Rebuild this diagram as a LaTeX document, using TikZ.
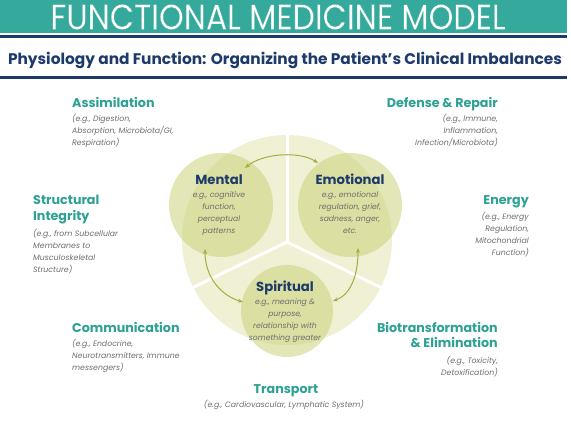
\documentclass[tikz,border=0pt]{standalone}
\usepackage{fontspec}
\setmainfont{Poppins}
\usetikzlibrary{arrows.meta}
\definecolor{banner}{HTML}{35AA9C}
\definecolor{navy}{HTML}{1D3A6A}
\definecolor{tealtxt}{HTML}{2DA193}
\definecolor{graytxt}{HTML}{6E6E6E}
\definecolor{pale}{HTML}{EFF0D4}
\definecolor{olivefill}{HTML}{C8CF70}
\definecolor{olive}{HTML}{A4AE3F}
\tikzset{
  lab/.style={text=tealtxt, font=\bfseries\fontsize{12.7}{15.5}\selectfont, inner sep=0pt},
  desc/.style={text=graytxt, font=\itshape\fontsize{7.8}{12}\selectfont, inner sep=0pt},
  ctitle/.style={text=navy, font=\bfseries\fontsize{13.2}{14}\selectfont, inner sep=0pt},
  cdesc/.style={text=graytxt, font=\itshape\fontsize{7.7}{12}\selectfont, inner sep=0pt, align=center},
  bubble/.style={circle, fill=olivefill, fill opacity=0.5, draw=none, inner sep=0pt},
  divider/.style={white, line width=3pt},
  link/.style={olive, line width=1pt, {Stealth[length=5pt,width=4pt]}-{Stealth[length=5pt,width=4pt]}}
}
\begin{document}
\begin{tikzpicture}[x=1pt,y=-1pt]
\useasboundingbox (0,0) rectangle (571,422);
\fill[white] (0,0) rectangle (571,422);
% header
\fill[banner] (0,0) rectangle (567,33);
\draw[navy, line width=3pt] (0,36.5) -- (567,36.5);
\node[white, inner sep=0pt] (title) at (278,17) {\special{pdf:code q 2 Tr 0.055 w 0.208 0.667 0.612 RG}\resizebox{455pt}{25pt}{FUNCTIONAL MEDICINE MODEL}\special{pdf:code Q}};
\node[text=navy, inner sep=0pt] (subtitle) at (285,60) {\resizebox{554pt}{!}{\bfseries Physiology and Function: Organizing the Patient's Clinical Imbalances}};
\draw[navy, line width=2.5pt] (0,77.5) -- (567,77.5);
% central figure
\node[circle, fill=pale, minimum size=210pt, inner sep=0pt] (pale) at (287,240) {};
\coordinate (hub) at (287,242);
\coordinate (dtop) at (287,135);
\coordinate (dleft) at (192,288);
\coordinate (dright) at (382,288);
\draw[divider] (hub) -- (dtop);
\draw[divider] (hub) -- (dleft);
\draw[divider] (hub) -- (dright);
\node[bubble, minimum size=104pt] (mental) at (221,205) {};
\node[bubble, minimum size=104pt] (emotional) at (350,205) {};
\node[bubble, minimum size=92pt] (spiritual) at (287,311) {};
% circle texts
\node[ctitle, anchor=base] (mt) at (219,185) {Mental};
\node[cdesc, anchor=north] (md) at (219,191) {e.g., cognitive\\function,\\perceptual\\patterns};
\node[ctitle, anchor=base] (et) at (350,185) {Emotional};
\node[cdesc, anchor=north] (ed) at (350,191) {e.g., emotional\\regulation, grief,\\sadness, anger,\\etc.};
\node[ctitle, anchor=base] (st) at (285,292) {Spiritual};
\node[cdesc, anchor=north] (sd) at (285,298) {e.g., meaning \&\\purpose,\\relationship with\\something greater};
% arrows
\coordinate (a1) at (245,168);
\coordinate (a2) at (318,163);
\coordinate (b1) at (205,249);
\coordinate (b2) at (243,302);
\coordinate (c1) at (358,248);
\coordinate (c2) at (333,301);
\draw[link] (a1) .. controls (263,153) and (300,151) .. (a2);
\draw[link] (b1) .. controls (205,278) and (222,296) .. (b2);
\draw[link] (c1) .. controls (358,277) and (350,295) .. (c2);
% left column
\node[lab, anchor=base west] (assim) at (72,108) {Assimilation};
\node[desc, anchor=north west, align=left] (assimd) at (72,114) {(e.g., Digestion,\\Absorption, Microbiota/GI,\\Respiration)};
\node[lab, anchor=north west, align=left] (struct) at (33,195) {Structural\\Integrity};
\node[desc, anchor=north west, align=left] (structd) at (33,229) {(e.g., from Subcellular\\Membranes to\\Musculoskeletal\\Structure)};
\node[lab, anchor=base west] (comm) at (72,333) {Communication};
\node[desc, anchor=north west, align=left] (commd) at (72,339) {(e.g., Endocrine,\\Neurotransmitters, Immune\\messengers)};
% right column
\node[lab, anchor=base east] (def) at (498,108) {Defense \& Repair};
\node[desc, anchor=north east, align=right] (defd) at (498,114) {(e.g., Immune,\\Inflammation,\\Infection/Microbiota)};
\node[lab, anchor=base east] (energy) at (529,205) {Energy};
\node[desc, anchor=north east, align=right] (energyd) at (529,212) {(e.g., Energy\\Regulation,\\Mitochondrial\\Function)};
\node[lab, anchor=north east, align=right] (bio) at (498,322) {Biotransformation\\\& Elimination};
\node[desc, anchor=north east, align=right] (biod) at (498,356) {(e.g., Toxicity,\\Detoxification)};
% bottom
\node[lab, anchor=base] (trans) at (286,394) {Transport};
\node[desc, anchor=north] (transd) at (284,400) {(e.g., Cardiovascular, Lymphatic System)};
\end{tikzpicture}
\end{document}
